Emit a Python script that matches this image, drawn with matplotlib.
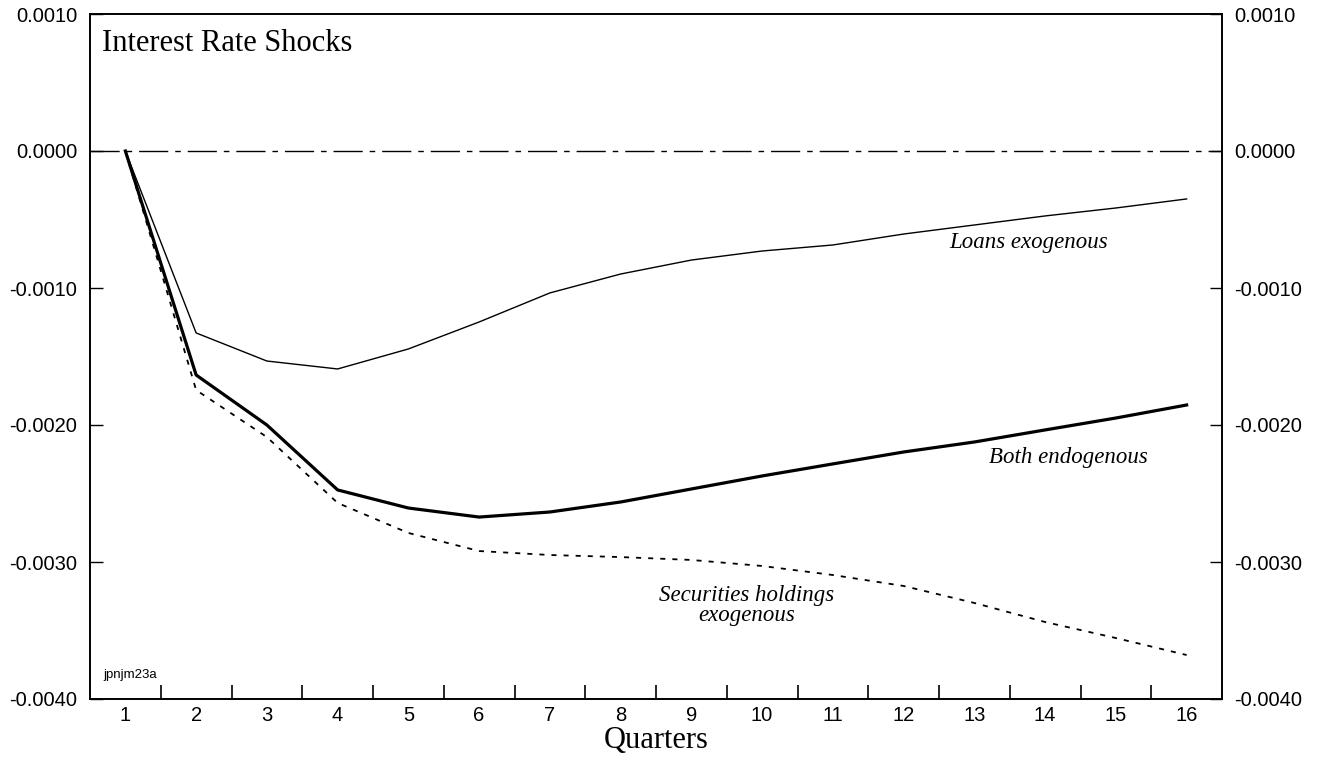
import matplotlib
matplotlib.use("Agg")
import matplotlib.pyplot as plt
import numpy as np

# Quartale 1..16
quarters = np.arange(1, 17)

# Werte
loans_exogenous = [0.0, -0.001328, -0.001533, -0.001591, -0.001445, -0.001248, -0.001036, -0.000898,
                   -0.000796, -0.000730, -0.000686, -0.000606, -0.000540, -0.000474, -0.000416, -0.000350]
both_endogenous = [0.0, -0.001635, -0.002000, -0.002474, -0.002606, -0.002672, -0.002635, -0.002562,
                   -0.002467, -0.002372, -0.002284, -0.002197, -0.002124, -0.002036, -0.001949, -0.001854]
securities_exogenous = [0.0, -0.001745, -0.002088, -0.002569, -0.002788, -0.002920, -0.002949, -0.002964,
                        -0.002985, -0.003029, -0.003095, -0.003175, -0.003299, -0.003438, -0.003555, -0.003679]

y_ticks = [0.001, 0.0, -0.001, -0.002, -0.003, -0.004]
y_labels = ["0.0010", "0.0000", "-0.0010", "-0.0020", "-0.0030", "-0.0040"]

serif = "Liberation Serif"
sans = "Liberation Sans"

fig = plt.figure(figsize=(13.2, 7.58), dpi=100)
ax = fig.add_axes([90 / 1320, 1 - 699 / 758, (1222 - 90) / 1320, (699 - 14) / 758])

# Nulllinie (Strich-Punkt)
ax.axhline(0, color="black", lw=1.0, dashes=(21, 5, 4, 5))

ax.plot(quarters, loans_exogenous, color="black", lw=1.0)
ax.plot(quarters, both_endogenous, color="black", lw=2.3)
ax.plot(quarters, securities_exogenous, color="black", lw=1.3, dashes=(2.8, 3.9))

ax.set_xlim(0.5, 16.5)
ax.set_ylim(-0.004, 0.001)

# Striche zwischen den Quartalen, Beschriftung auf den Quartalen
ax.set_xticks(np.arange(1.5, 16.5, 1.0))
ax.set_xticklabels([])
ax.set_xticks(quarters, minor=True)
ax.set_xticklabels([str(q) for q in quarters], minor=True, fontsize=14.5, family=sans)
ax.tick_params(axis="x", which="major", direction="in", length=10, width=1.2)
ax.tick_params(axis="x", which="minor", length=0, pad=5)

ax.set_yticks(y_ticks)
ax.set_yticklabels(y_labels, fontsize=14.5, family=sans)
ax.tick_params(axis="y", direction="in", length=9, width=1.0, pad=9,
               left=True, right=True, labelleft=True, labelright=True)

for s in ax.spines.values():
    s.set_linewidth(1.4)

ax.text(0.0106, 0.946, "Interest Rate Shocks", transform=ax.transAxes, ha="left", va="baseline",
        fontsize=22, family=serif)
ax.text(0.012, 0.035, "jpnjm23a", transform=ax.transAxes, ha="left", va="center",
        fontsize=9.5, family=sans)

# Beschriftungen der Kurven
ax.text(12.64, -0.000708, "Loans exogenous", ha="left", va="baseline", fontsize=16.5,
        family=serif, style="italic")
ax.text(13.2, -0.002277, "Both endogenous", ha="left", va="baseline", fontsize=16.5,
        family=serif, style="italic")
ax.text(9.775, -0.003285, "Securities holdings", ha="center", va="baseline", fontsize=16.5,
        family=serif, style="italic")
ax.text(9.775, -0.003431, "exogenous", ha="center", va="baseline", fontsize=16.5,
        family=serif, style="italic")

ax.set_xlabel("Quarters", fontsize=22, family=serif, labelpad=1)

fig.savefig("out.png", dpi=100)
